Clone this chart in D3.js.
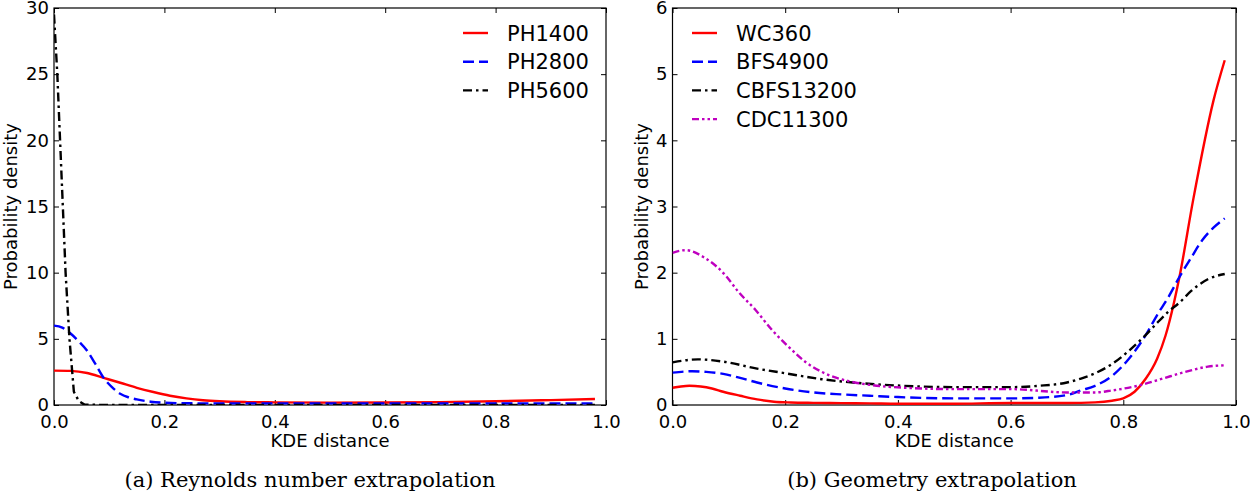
<!DOCTYPE html>
<html>
<head>
<meta charset="utf-8">
<script src="https://cdn.jsdelivr.net/npm/d3@7"></script>
<style>
  body { margin: 0; background: #fff; }
  text { font-family: "DejaVu Sans", sans-serif; fill: #000; }
</style>
</head>
<body>
<div class="chart-container"></div>
<script>
// panel (a) - Reynolds number extrapolation, [KDE distance, density]
ph1400 = [[0,2.6],[0.03,2.58],[0.06,2.42],[0.09,2.05],[0.12,1.68],[0.15,1.3],[0.18,0.98],[0.21,0.7],[0.24,0.5],[0.27,0.36],[0.3,0.28],[0.35,0.22],[0.4,0.2],[0.5,0.18],[0.6,0.19],[0.7,0.22],[0.8,0.28],[0.9,0.37],[0.98,0.45]]
ph2800 = [[0,6.0],[0.015,5.85],[0.03,5.4],[0.045,4.8],[0.06,4.1],[0.075,3.1],[0.09,2.05],[0.105,1.35],[0.12,0.85],[0.135,0.58],[0.15,0.42],[0.175,0.25],[0.2,0.17],[0.25,0.13],[0.3,0.12],[0.4,0.12],[0.6,0.12],[0.8,0.12],[0.98,0.12]]
ph5600 = [[0,29.5],[0.006,25],[0.011,20],[0.016,15],[0.021,10],[0.028,5],[0.036,1.0],[0.045,0.3],[0.055,0.03],[0.08,0.01],[0.2,0.01],[0.98,0.01]]

// panel (b) - Geometry extrapolation
wc360 = [[0,0.26],[0.015,0.28],[0.03,0.29],[0.05,0.28],[0.07,0.25],[0.09,0.2],[0.12,0.14],[0.15,0.085],[0.18,0.05],[0.21,0.038],[0.25,0.032],[0.3,0.028],[0.35,0.025],[0.4,0.018],[0.5,0.02],[0.6,0.03],[0.7,0.03],[0.75,0.04],[0.78,0.065],[0.8,0.1],[0.82,0.2],[0.84,0.4],[0.86,0.7],[0.875,1.05],[0.89,1.55],[0.9,1.95],[0.924,3.1],[0.96,4.6],[0.98,5.21]]
bfs4900 = [[0,0.49],[0.035,0.51],[0.06,0.5],[0.09,0.47],[0.12,0.41],[0.15,0.34],[0.2,0.25],[0.25,0.19],[0.3,0.16],[0.35,0.14],[0.4,0.12],[0.5,0.1],[0.6,0.1],[0.65,0.11],[0.7,0.15],[0.725,0.22],[0.75,0.29],[0.78,0.44],[0.81,0.7],[0.84,1.06],[0.86,1.36],[0.88,1.63],[0.9,1.94],[0.92,2.22],[0.94,2.49],[0.96,2.68],[0.98,2.82]]
cbfs13200 = [[0,0.645],[0.045,0.69],[0.09,0.655],[0.15,0.55],[0.2,0.48],[0.265,0.39],[0.32,0.34],[0.41,0.29],[0.5,0.27],[0.6,0.27],[0.65,0.29],[0.7,0.34],[0.725,0.4],[0.75,0.48],[0.78,0.62],[0.81,0.82],[0.84,1.06],[0.86,1.24],[0.88,1.41],[0.9,1.55],[0.92,1.72],[0.95,1.9],[0.98,1.98]]
cdc11300 = [[0,2.3],[0.023,2.34],[0.058,2.22],[0.094,1.96],[0.117,1.71],[0.147,1.44],[0.177,1.13],[0.206,0.88],[0.236,0.65],[0.265,0.5],[0.295,0.4],[0.324,0.34],[0.354,0.3],[0.413,0.26],[0.5,0.24],[0.6,0.24],[0.7,0.19],[0.75,0.19],[0.78,0.22],[0.83,0.3],[0.87,0.4],[0.91,0.5],[0.95,0.58],[0.98,0.6]]

xTicks = [0, 0.2, 0.4, 0.6, 0.8, 1.0]
yTicksA = [0, 5, 10, 15, 20, 25, 30]
yTicksB = [0, 1, 2, 3, 4, 5, 6]

// line styles
styles = {
  solid: null,
  dashed: "11,5",
  dashdot: "9,4,2.5,4",
  dashdotdot: "7,3,2.5,3,2.5,3"
}

svg = d3.select(".chart-container").append("svg").attr("width", 1250).attr("height", 493)

function panel(opt) {
  x = d3.scaleLinear().domain([0, 1]).range([opt.left, opt.right])
  y = d3.scaleLinear().domain([0, opt.ymax]).range([405, 8])
  g = svg.append("g")

  clipId = "clip-" + opt.id
  g.append("clipPath").attr("id", clipId).append("rect")
    .attr("x", opt.left).attr("y", 8).attr("width", opt.right - opt.left).attr("height", 397)

  // axes with inward ticks on all four sides
  g.append("g").attr("transform", "translate(0,405)")
    .call(d3.axisBottom(x).tickValues(xTicks).tickSizeInner(-5).tickSizeOuter(0).tickPadding(10).tickFormat(d3.format(".1f")))
  g.append("g").attr("transform", "translate(0,8)")
    .call(d3.axisTop(x).tickValues(xTicks).tickSizeInner(-5).tickSizeOuter(0).tickFormat(""))
  g.append("g").attr("transform", "translate(" + opt.left + ",0)")
    .call(d3.axisLeft(y).tickValues(opt.yticks).tickSizeInner(-5).tickSizeOuter(0).tickPadding(5).tickFormat(d3.format("d")))
  g.append("g").attr("transform", "translate(" + opt.right + ",0)")
    .call(d3.axisRight(y).tickValues(opt.yticks).tickSizeInner(-5).tickSizeOuter(0).tickFormat(""))
  g.selectAll(".domain").remove()
  g.selectAll(".tick line").attr("stroke", "#000")
  g.selectAll(".tick text").attr("font-size", 18).attr("font-family", "DejaVu Sans").attr("fill", "#000")

  g.append("rect").attr("x", opt.left).attr("y", 8).attr("width", opt.right - opt.left).attr("height", 397)
    .attr("fill", "none").attr("stroke", "#000").attr("stroke-width", 1.2)

  line = d3.line().x(d => x(d[0])).y(d => y(d[1]))

  opt.series.forEach(s => {
    g.append("path").datum(s.data)
      .attr("clip-path", "url(#" + clipId + ")")
      .attr("d", line.curve(s.curve || d3.curveMonotoneX))
      .attr("fill", "none").attr("stroke", s.color).attr("stroke-width", 2.4)
      .attr("stroke-dasharray", styles[s.style])
  })

  // legend, no frame
  leg = g.selectAll(".leg").data(opt.series).enter().append("g")
    .attr("transform", (d, i) => "translate(" + opt.legX + "," + (33 + i * 28.7) + ")")
  leg.append("line").attr("x1", 0).attr("x2", 25).attr("y1", 0).attr("y2", 0)
    .attr("stroke", d => d.color).attr("stroke-width", 2.4).attr("stroke-dasharray", d => styles[d.style])
  leg.append("text").attr("x", 44).attr("y", 7.5).attr("font-size", 21).text(d => d.name)

  // axis labels
  g.append("text").attr("x", (opt.left + opt.right) / 2).attr("y", 447).attr("text-anchor", "middle")
    .attr("font-size", 18).text("KDE distance")
  g.append("text").attr("transform", "translate(" + opt.ylabX + ",206.5) rotate(-90)").attr("text-anchor", "middle")
    .attr("font-size", 18).text("Probability density")

  // caption
  g.append("text").attr("x", opt.capX).attr("y", 487).attr("text-anchor", "middle")
    .attr("font-size", 21).style("font-family", "'DejaVu Serif', serif").text(opt.caption)
}

panel({
  id: "a", left: 54, right: 606, ymax: 30, yticks: yTicksA, legX: 463, ylabX: 17, capX: 310,
  caption: "(a) Reynolds number extrapolation",
  series: [
    {name: "PH1400", data: ph1400, color: "#ff0000", style: "solid"},
    {name: "PH2800", data: ph2800, color: "#0000ff", style: "dashed"},
    {name: "PH5600", data: ph5600, color: "#000000", style: "dashdot", curve: d3.curveLinear}
  ]
})

panel({
  id: "b", left: 672.5, right: 1236, ymax: 6, yticks: yTicksB, legX: 692, ylabX: 648, capX: 932,
  caption: "(b) Geometry extrapolation",
  series: [
    {name: "WC360", data: wc360, color: "#ff0000", style: "solid"},
    {name: "BFS4900", data: bfs4900, color: "#0000ff", style: "dashed"},
    {name: "CBFS13200", data: cbfs13200, color: "#000000", style: "dashdot"},
    {name: "CDC11300", data: cdc11300, color: "#bf00bf", style: "dashdotdot"}
  ]
})
</script>
</body>
</html>
